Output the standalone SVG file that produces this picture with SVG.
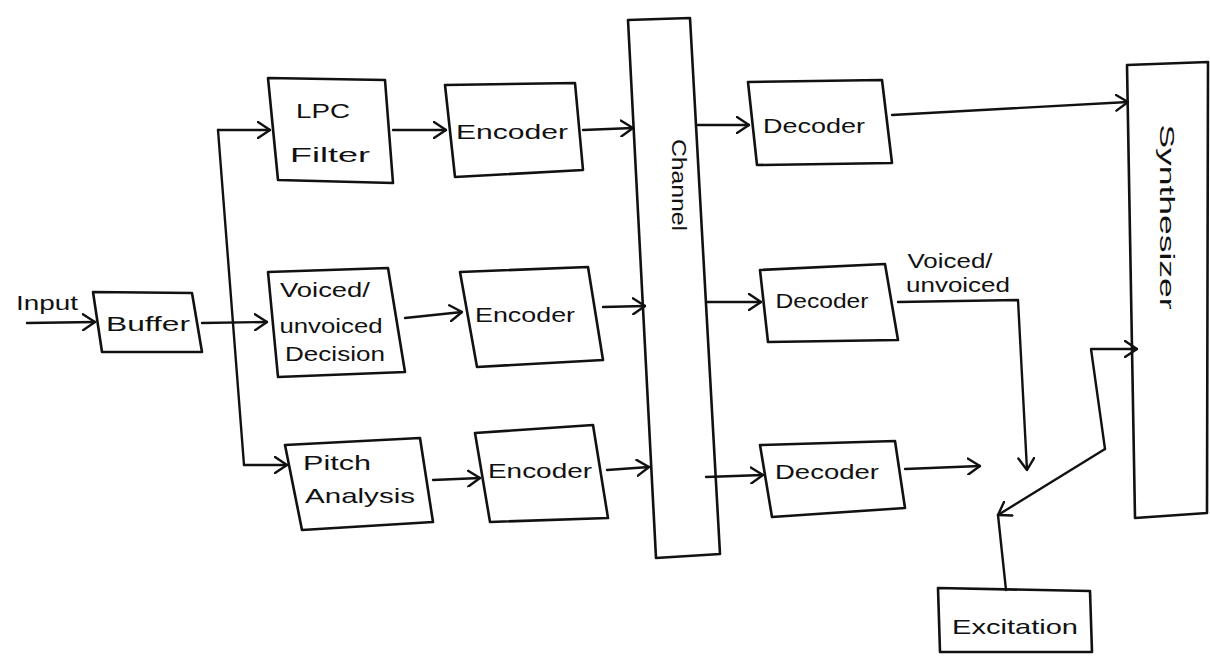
<svg xmlns="http://www.w3.org/2000/svg" width="1210" height="668" viewBox="0 0 1210 668">
<style>
.b{fill:none;stroke:#111;stroke-width:2.6;stroke-linejoin:round}
.c{fill:none;stroke:#111;stroke-width:2.4;stroke-linecap:round;stroke-linejoin:round}
.a{marker-end:url(#ah)}
text{font-family:"Liberation Sans","DejaVu Sans",sans-serif;fill:#111;font-size:21px;text-anchor:middle}
</style>
<defs>
<marker id="ah" viewBox="0 0 14 18" refX="13" refY="9" markerWidth="14" markerHeight="18" markerUnits="userSpaceOnUse" orient="auto">
<path d="M1,1 L13,9 L1,17" fill="none" stroke="#111" stroke-width="2.4" stroke-linecap="round" stroke-linejoin="round"/>
</marker>
</defs>
<rect width="1210" height="668" fill="#fff"/>

<g id="connectors">
<path class="c a" d="M27,323 L95,322"/>
<path class="c a" d="M202,323 L267,322"/>
<path class="c" d="M218,130 L244,465"/>
<path class="c a" d="M218,130 L270,130"/>
<path class="c a" d="M244,465 L287,465"/>
<path class="c a" d="M393,130 L446,130"/>
<path class="c a" d="M583,130 L633,128"/>
<path class="c a" d="M405,318 L462,312"/>
<path class="c a" d="M603,307 L645,306"/>
<path class="c a" d="M433,480 L480,478"/>
<path class="c a" d="M607,470 L649,467"/>
<path class="c a" d="M698,125 L749,125"/>
<path class="c a" d="M707,302 L761,302"/>
<path class="c a" d="M706,477 L763,475"/>
<path class="c a" d="M892,115 L1128,102"/>
<path class="c a" d="M898,302 L1018,300 L1027,470"/>
<path class="c a" d="M905,469 L980,466"/>
<path class="c" d="M1006,590 L998,515"/>
<path class="c a" d="M1105,449 L998,515"/>
<path class="c a" d="M1105,449 L1091,349 L1137,349"/>
</g>

<g id="input-label"><text x="47" y="310" font-size="16" textLength="62" lengthAdjust="spacingAndGlyphs">Input</text></g>

<g id="buffer">
<path class="b" d="M93,292 L192,293 L202,352 L102,352 Z"/>
<text x="148" y="331" font-size="20" textLength="84" lengthAdjust="spacingAndGlyphs">Buffer</text>
</g>

<g id="lpc-filter">
<path class="b" d="M268,78 L385,80 L393,183 L278,180 Z"/>
<text x="323" y="118" textLength="54" lengthAdjust="spacingAndGlyphs">LPC</text>
<text x="330" y="162" textLength="80" lengthAdjust="spacingAndGlyphs">Filter</text>
</g>

<g id="encoder1">
<path class="b" d="M445,85 L575,83 L583,170 L455,177 Z"/>
<text x="512" y="139" font-size="22" textLength="112" lengthAdjust="spacingAndGlyphs">Encoder</text>
</g>

<g id="vuv-decision">
<path class="b" d="M268,272 L388,268 L405,372 L278,377 Z"/>
<text x="325" y="297" textLength="90" lengthAdjust="spacingAndGlyphs">Voiced/</text>
<text x="331" y="333" textLength="103" lengthAdjust="spacingAndGlyphs">unvoiced</text>
<text x="335" y="361" textLength="100" lengthAdjust="spacingAndGlyphs">Decision</text>
</g>

<g id="encoder2">
<path class="b" d="M460,272 L588,267 L603,360 L477,367 Z"/>
<text x="525" y="322" font-size="22" textLength="100" lengthAdjust="spacingAndGlyphs">Encoder</text>
</g>

<g id="pitch-analysis">
<path class="b" d="M285,445 L420,438 L433,522 L302,530 Z"/>
<text x="337" y="470" textLength="68" lengthAdjust="spacingAndGlyphs">Pitch</text>
<text x="360" y="503" textLength="110" lengthAdjust="spacingAndGlyphs">Analysis</text>
</g>

<g id="encoder3">
<path class="b" d="M475,433 L593,425 L608,518 L490,522 Z"/>
<text x="540" y="478" font-size="22" textLength="104" lengthAdjust="spacingAndGlyphs">Encoder</text>
</g>

<g id="channel">
<path class="b" d="M628,20 L690,18 L720,554 L656,558 Z"/>
<text transform="translate(672,185) rotate(90)" font-size="22" textLength="92" lengthAdjust="spacingAndGlyphs">Channel</text>
</g>

<g id="decoder1">
<path class="b" d="M748,82 L882,80 L892,163 L757,165 Z"/>
<text x="814" y="133" font-size="21" textLength="102" lengthAdjust="spacingAndGlyphs">Decoder</text>
</g>

<g id="decoder2">
<path class="b" d="M760,270 L885,264 L898,340 L768,342 Z"/>
<text x="822" y="308" font-size="20" textLength="93" lengthAdjust="spacingAndGlyphs">Decoder</text>
</g>

<g id="decoder3">
<path class="b" d="M760,445 L895,441 L905,508 L772,517 Z"/>
<text x="827" y="479" font-size="21" textLength="104" lengthAdjust="spacingAndGlyphs">Decoder</text>
</g>

<g id="vuv-label">
<text x="950" y="268" font-size="18" textLength="85" lengthAdjust="spacingAndGlyphs">Voiced/</text>
<text x="958" y="292" font-size="18" textLength="104" lengthAdjust="spacingAndGlyphs">unvoiced</text>
</g>

<g id="excitation">
<path class="b" d="M938,588 L1090,591 L1092,652 L940,652 Z"/>
<text x="1015" y="634" font-size="22" textLength="126" lengthAdjust="spacingAndGlyphs">Excitation</text>
</g>

<g id="synthesizer">
<path class="b" d="M1127,65 L1208,62 L1207,513 L1135,518 Z"/>
<text transform="translate(1160,217) rotate(90)" font-size="22" textLength="185" lengthAdjust="spacingAndGlyphs">Synthesizer</text>
</g>
</svg>
